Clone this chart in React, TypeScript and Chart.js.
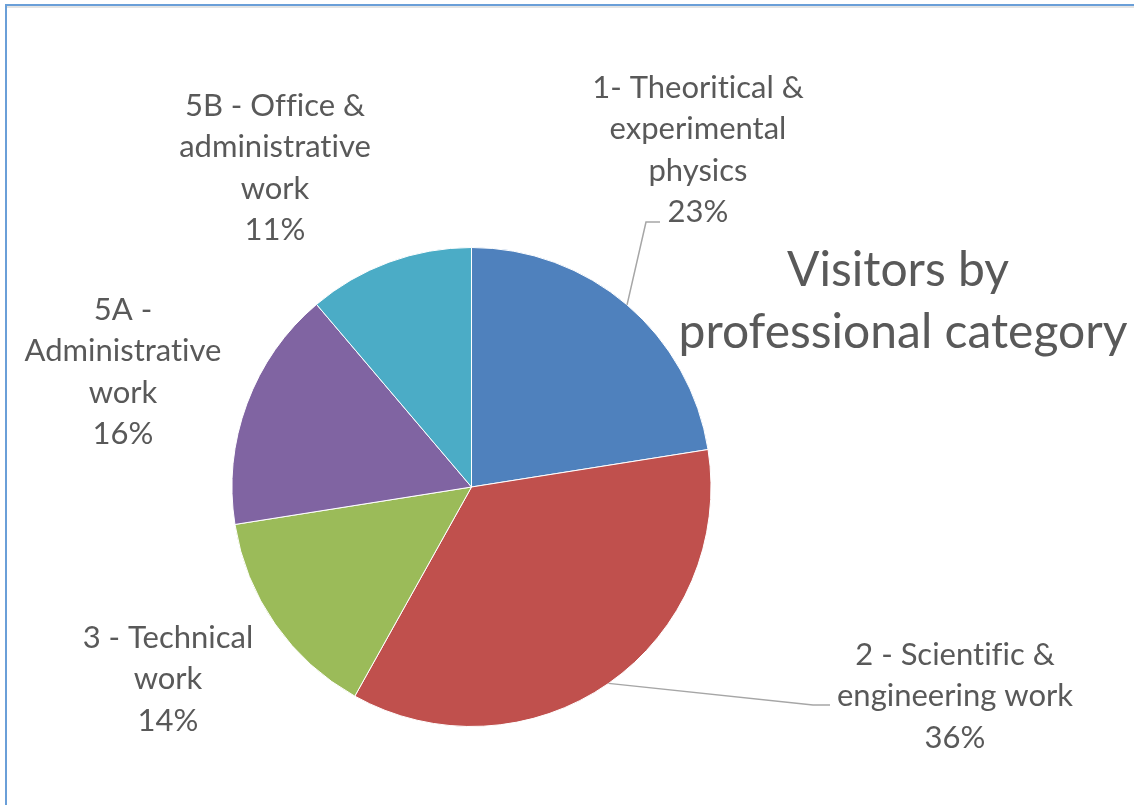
import React, { useEffect, useRef } from "react";
import { Chart, registerables } from "chart.js";

Chart.register(...registerables);

const categories: string[][] = [
  ["1- Theoritical &", "experimental", "physics"],
  ["2 - Scientific &", "engineering work"],
  ["3 - Technical", "work"],
  ["5A -", "Administrative", "work"],
  ["5B - Office &", "administrative", "work"],
];
const shares: number[] = [22.5, 35.6, 14.4, 16.3, 11.2];
const percentLabels: string[] = ["23%", "36%", "14%", "16%", "11%"];
const sliceColors: string[] = ["#4F81BD", "#C0504D", "#9BBB59", "#8064A2", "#4BACC6"];
const titleLines: string[] = ["Visitors by", "professional category"];

const FONT = "Lato, 'Open Sans', sans-serif";
const TEXT_COLOR = "#595959";

// label block centres, relative to pie centre (pixels)
const labelOffsets: [number, number][] = [
  [226.5, -337],
  [483.5, 209],
  [-303.5, 192],
  [-348.5, -115],
  [-196.5, -319],
];
// leader line bends (relative to pie centre), null = no leader
const leaders: ([number, number][] | null)[] = [
  [[174.5, -265], [188.5, -265]],
  [[341.5, 218], [358.5, 218]],
  null,
  null,
  null,
];

const labelPlugin = {
  id: "pieLabels",
  afterDatasetsDraw(chart: any) {
    const ctx = chart.ctx as any;
    const meta = chart.getDatasetMeta(0);
    ctx.save();
    try {
      ctx.textRendering = "optimizeSpeed";
    } catch (e) {}
    meta.data.forEach((arc: any, i: number) => {
      const { x, y, startAngle, endAngle, outerRadius } = arc.getProps(
        ["x", "y", "startAngle", "endAngle", "outerRadius"],
        true
      );
      const lead = leaders[i];
      if (lead) {
        const mid = (startAngle + endAngle) / 2;
        ctx.beginPath();
        ctx.strokeStyle = "#A6A6A6";
        ctx.lineWidth = 1.5;
        ctx.moveTo(x + Math.cos(mid) * outerRadius, y + Math.sin(mid) * outerRadius);
        lead.forEach(([dx, dy]) => ctx.lineTo(x + dx, y + dy));
        ctx.stroke();
      }
      const lines = [...categories[i], percentLabels[i]];
      const lh = 41.5;
      const [ox, oy] = labelOffsets[i];
      const cx = x + ox;
      const cy = y + oy;
      ctx.fillStyle = TEXT_COLOR;
      ctx.font = `31px ${FONT}`;
      ctx.textAlign = "center";
      ctx.textBaseline = "middle";
      lines.forEach((t, k) => {
        ctx.fillText(t, cx, cy + (k - (lines.length - 1) / 2) * lh);
      });
    });
    // title
    ctx.font = `48px ${FONT}`;
    ctx.fillStyle = TEXT_COLOR;
    ctx.textAlign = "center";
    ctx.textBaseline = "middle";
    ctx.fillText(titleLines[0], 898, 271);
    ctx.fillText(titleLines[1], 903, 333);
    ctx.restore();
  },
};

export default function App() {
  const ref = useRef<HTMLCanvasElement>(null);
  useEffect(() => {
    if (!ref.current) return;
    const chart = new Chart(ref.current, {
      type: "pie",
      data: {
        labels: categories.map((c) => c.join(" ")),
        datasets: [
          {
            data: shares,
            backgroundColor: sliceColors,
            borderColor: "#FFFFFF",
            borderWidth: 1,
          },
        ],
      },
      options: {
        responsive: false,
        animation: false,
        layout: { padding: { left: 231.5, right: 422.5, top: 247, bottom: 78 } },
        plugins: {
          legend: { display: false },
          tooltip: { enabled: false },
          title: { display: false },
        },
      },
      plugins: [labelPlugin],
    });
    return () => chart.destroy();
  }, []);

  return (
    <div style={{ position: "absolute", left: 0, top: 0, width: 1134, height: 805, background: "#fff", overflow: "hidden" }}>
      <div style={{ position: "absolute", left: 5, top: 4, width: 1200, height: 900, borderTop: "2px solid #6A9FD8", borderLeft: "2px solid #6A9FD8" }} />
      <div style={{ position: "absolute", left: 7, top: 6, width: 1200, height: 2, background: "#E4E4E4" }} />
      <canvas ref={ref} width={1134} height={805} style={{ position: "absolute", left: 0, top: 0 }} />
    </div>
  );
}
